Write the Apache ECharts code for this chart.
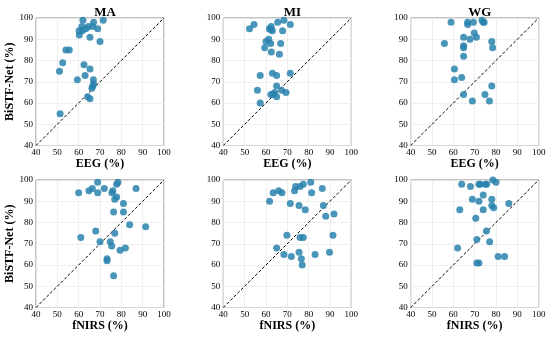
<!DOCTYPE html>
<html><head><meta charset="utf-8">
<script src="https://cdn.jsdelivr.net/npm/echarts@6/dist/echarts.min.js"></script>
<style>html,body{margin:0;padding:0;background:#fff}#c{width:550px;height:338px}</style>
</head><body><div id="c"></div>
<script>
const titles = ['MA', 'MI', 'WG'];
const xNames = ['EEG (%)', 'fNIRS (%)'];
const yName = 'BiSTF-Net (%)';
const ticks = [40, 50, 60, 70, 80, 90, 100];
const diagonal = [[40, 40], [100, 100]];

const eegMA = [[62,99],[71.5,99],[67,98],[61.5,96],[64.5,96],[66.5,96],[63.4,95],[68.9,95],[60.2,94],[61.7,94],[60.3,92],[65.3,91],[70,89],[54,85],[55.6,85],[52.5,79],[51,75],[62.5,78],[65.3,76],[63,73],[59.4,71],[66.9,71],[67,69],[66.6,68],[66.2,67],[64.2,63],[65.3,62],[51.3,55]];
const eegMI = [[54.4,97],[52.3,95],[68.4,99],[65.5,98],[71.4,97],[62.5,96],[61.6,95],[62.3,94.5],[63,94],[67.8,94],[61.3,90],[60,89],[62.2,88],[66.9,88],[59.4,86],[62.5,84],[66.3,83],[63,74],[65,73],[71.4,74],[57.3,73],[65,68],[56,66],[67.3,66],[69.4,65],[64,65],[62.3,64],[63.4,64],[65,63],[57.3,60]];
const eegWG = [[58.9,98],[66.7,98],[66.7,97],[69.4,98],[73.4,99],[74,98],[74.4,98],[69.8,93],[64.8,91],[70.8,91],[67.8,90],[55.8,88],[78,89],[64.8,87],[64.8,86],[78.4,86],[64.8,82],[60.5,76],[60.5,71],[63.9,72],[78,68],[64.8,64],[74.8,64],[68.9,61],[76.9,61]];
const fnirsMA = [[60,94],[64.8,95],[66.4,96],[68.9,99],[68.9,94],[72,96],[76,95],[75.6,94],[77.8,98],[78.4,99],[77.8,92],[76.9,91],[86.9,96],[81,89],[76.4,85],[81,85],[83.9,79],[91.4,78],[68,76],[76.9,75],[61,73],[70,71],[74.8,71],[75.5,69],[81.9,68],[79.4,67],[73.3,63],[73.3,62],[76.4,55]];
const fnirsMI = [[63.4,94],[66,95],[67.5,94],[61.7,90],[73.9,97],[76,97],[77.5,98],[73.4,95],[81,99],[81.4,94],[86.4,96],[71.4,89],[75.5,88],[78.4,86],[86.9,88],[88,83],[91.9,84],[69.8,74],[91.4,74],[76,73],[77.5,73],[65,68],[68.4,65],[71.9,64],[75.5,66],[76.6,63],[83,65],[89.8,66],[77,60]];
const fnirsWG = [[63.9,98],[68,97],[72,98],[72.5,98],[75,98],[75.6,98],[78.5,100],[80,99],[68.9,91],[72,90],[74,93],[78,91],[78,88],[78.9,87],[86,89],[63,86],[74,86],[70.5,82],[75.5,76],[71,72],[77,71],[62,68],[71,61],[72,61],[81,64],[84,64]];

const panels = [eegMA, eegMI, eegWG, fnirsMA, fnirsMI, fnirsWG];
const lefts = [36, 223.3, 410.7];
const tops = [18, 180];
const W = 128, H = 127.5;
const serif = '"Liberation Serif","Times New Roman",serif';

const grid = [], xAxis = [], yAxis = [], series = [], title = [];
panels.forEach((d, i) => {
  const r = Math.floor(i / 3), c = i % 3;
  grid.push({left: lefts[c], top: tops[r], width: W, height: H, show: true, borderColor: '#888', borderWidth: 1, backgroundColor: 'transparent'});
  xAxis.push({gridIndex: i, type: 'value', min: ticks[0], max: ticks[ticks.length-1], interval: 10,
    name: xNames[r], nameLocation: 'middle', nameGap: 11,
    nameTextStyle: {fontFamily: serif, fontWeight: 'bold', fontSize: 12, color: '#000'},
    axisLine: {show: false}, axisTick: {show: false},
    axisLabel: {fontFamily: serif, fontSize: 9, color: '#000', margin: 3},
    splitLine: {show: true, lineStyle: {color: '#ebebeb', width: 0.8}}});
  yAxis.push({gridIndex: i, type: 'value', min: ticks[0], max: ticks[ticks.length-1], interval: 10,
    name: c === 0 ? yName : '', nameLocation: 'middle', nameGap: 20,
    nameTextStyle: {fontFamily: serif, fontWeight: 'bold', fontSize: 12, color: '#000'},
    axisLine: {show: false}, axisTick: {show: false},
    axisLabel: {fontFamily: serif, fontSize: 9, color: '#000', margin: 3},
    splitLine: {show: true, lineStyle: {color: '#ebebeb', width: 0.8}}});
  if (r === 0) title.push({text: titles[c], left: lefts[c] + W/2, top: 1, textAlign: 'center',
    textStyle: {fontFamily: serif, fontWeight: 'bold', fontSize: 13, color: '#000'}});
  series.push({type: 'line', xAxisIndex: i, yAxisIndex: i, data: diagonal, symbol: 'none', silent: true,
    lineStyle: {color: '#000', width: 1, type: [3, 2]}, z: 1});
  series.push({type: 'scatter', xAxisIndex: i, yAxisIndex: i, data: d, symbolSize: 7,
    itemStyle: {color: '#2a83ae', opacity: 0.85}, z: 2});
});

const chart = echarts.init(document.getElementById('c'), null, {renderer: 'canvas'});
chart.setOption({animation: false, title, grid, xAxis, yAxis, series});
</script></body></html>
